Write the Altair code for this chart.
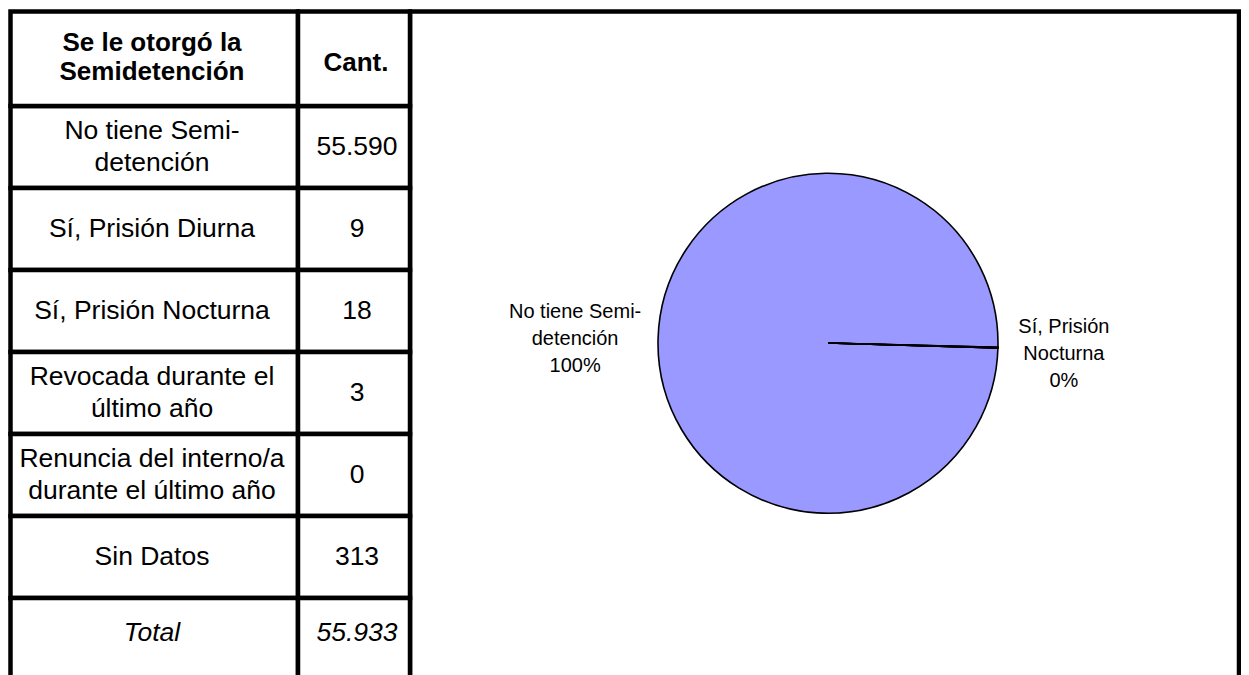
import math
import altair as alt
import pandas as pd

# ---------------- data ----------------
categorias = [
    "No tiene Semi-\ndetención",
    "Sí, Prisión Diurna",
    "Sí, Prisión Nocturna",
    "Revocada durante el\núltimo año",
    "Renuncia del interno/a\ndurante el último año",
    "Sin Datos",
]
cantidades = [55590, 9, 18, 3, 0, 313]
encabezado_cat = "Se le otorgó la\nSemidetención"
encabezado_cant = "Cant."
etiqueta_total = "Total"

torta_categorias = categorias[:5]
torta_valores = cantidades[:5]
torta_etiquetas = ["No tiene Semi-\ndetención", "", "Sí, Prisión\nNocturna", "", ""]


def fmt(n):
    return f"{n:,}".replace(",", ".")


total = sum(cantidades)
filas = categorias + [etiqueta_total]
tabla = pd.DataFrame({
    "fila": filas,
    "cant": [fmt(v) for v in cantidades] + [fmt(total)],
    "tipo": ["dato"] * len(categorias) + ["total"],
})

total_torta = sum(torta_valores)
etq_completa = [
    (e + "\n" + f"{round(v / total_torta * 100)}%") if e else ""
    for e, v in zip(torta_etiquetas, torta_valores)
]
torta = pd.DataFrame({
    "cat": torta_categorias,
    "valor": torta_valores,
    "izq": [t if i == 0 else "" for i, t in enumerate(etq_completa)],
    "der": [t if i == 2 else "" for i, t in enumerate(etq_completa)],
})

# ---------------- style ----------------
FONT = "Liberation Sans"
LW = 4.5
C1_X0, C1_X1 = 2.5, 290
C2_X1 = 402
FRAME_X1 = 1231
TOP = 3.5
HDR_BOT = 98
W, H = 1233, 667

yenc = alt.Y(
    "fila:N",
    sort=filas,
    scale=alt.Scale(domain=filas, range=[HDR_BOT, 672], paddingInner=0, paddingOuter=0),
    axis=None,
)

base_t = alt.Chart(tabla)

cel1 = base_t.mark_rect(fill="white", stroke="black", strokeWidth=LW).encode(
    y=yenc, x=alt.value(C1_X0), x2=alt.value(C1_X1))
cel2 = base_t.mark_rect(fill="white", stroke="black", strokeWidth=LW).encode(
    y=yenc, x=alt.value(C1_X1), x2=alt.value(C2_X1))

txt_kw = dict(font=FONT, fontSize=26.5, lineBreak="\n", lineHeight=32,
              baseline="middle", align="center", color="black")

multi = "indexof(datum.fila, '\\n') >= 0"
single = "indexof(datum.fila, '\\n') < 0"

t1a = base_t.transform_filter(alt.datum.tipo == "dato").transform_filter(single).mark_text(
    **txt_kw).encode(y=yenc, x=alt.value(144), text="fila:N")
t1b = base_t.transform_filter(alt.datum.tipo == "dato").transform_filter(multi).mark_text(
    dy=-16, **txt_kw).encode(y=yenc, x=alt.value(144), text="fila:N")
t2 = base_t.transform_filter(alt.datum.tipo == "dato").mark_text(**txt_kw).encode(
    y=yenc, x=alt.value(349), text="cant:N")
t1t = base_t.transform_filter(alt.datum.tipo == "total").mark_text(
    fontStyle="italic", dy=-6, **txt_kw).encode(y=yenc, x=alt.value(144), text="fila:N")
t2t = base_t.transform_filter(alt.datum.tipo == "total").mark_text(
    fontStyle="italic", dy=-6, **txt_kw).encode(y=yenc, x=alt.value(349), text="cant:N")

hdr = pd.DataFrame({"h1": [encabezado_cat], "h2": [encabezado_cant]})
base_h = alt.Chart(hdr)
hcel1 = base_h.mark_rect(fill="white", stroke="black", strokeWidth=LW).encode(
    x=alt.value(C1_X0), x2=alt.value(C1_X1), y=alt.value(TOP), y2=alt.value(HDR_BOT))
hcel2 = base_h.mark_rect(fill="white", stroke="black", strokeWidth=LW).encode(
    x=alt.value(C1_X1), x2=alt.value(C2_X1), y=alt.value(TOP), y2=alt.value(HDR_BOT))
hkw = dict(font=FONT, fontSize=26, fontWeight="bold", lineBreak="\n", lineHeight=29,
           baseline="middle", align="center", color="black")
ht1 = base_h.mark_text(**hkw).encode(x=alt.value(144), y=alt.value(35), text="h1:N")
ht2 = base_h.mark_text(**hkw).encode(x=alt.value(348), y=alt.value(55), text="h2:N")

marco = alt.Chart(pd.DataFrame({"m": [0]})).mark_rect(
    fill="white", stroke="black", strokeWidth=LW).encode(
    x=alt.value(C2_X1), x2=alt.value(FRAME_X1), y=alt.value(TOP), y2=alt.value(720))

# ---------------- pie ----------------
T0 = 1.600
theta = alt.Theta("valor:Q", stack=True,
                  scale=alt.Scale(range=[T0, T0 + 2 * math.pi]))
CX, CY = 820, 335
base_p = alt.Chart(torta)
arco = base_p.mark_arc(fill="#9999FF", stroke="black", strokeWidth=1.6).encode(
    theta=theta, x=alt.value(CX), y=alt.value(CY), radius=alt.value(170))
pkw = dict(font=FONT, fontSize=20, lineBreak="\n", lineHeight=27,
           baseline="middle", align="center", color="black", dy=-23)
lab_izq = base_p.mark_text(**pkw).encode(
    theta=theta, x=alt.value(CX), y=alt.value(CY), radius=alt.value(253), text="izq:N")
lab_der = base_p.mark_text(**pkw).encode(
    theta=theta, x=alt.value(CX), y=alt.value(CY), radius=alt.value(236), text="der:N")

chart = alt.layer(
    marco, cel1, cel2, hcel1, hcel2, t1a, t1b, t2, t1t, t2t, ht1, ht2, arco, lab_izq, lab_der
).properties(
    width=W, height=H, padding=0,
    autosize=alt.AutoSizeParams(type="none"),
    background="white",
).configure_view(stroke=None)

chart.save("out.html", embed_options={"renderer": "svg", "actions": False})
